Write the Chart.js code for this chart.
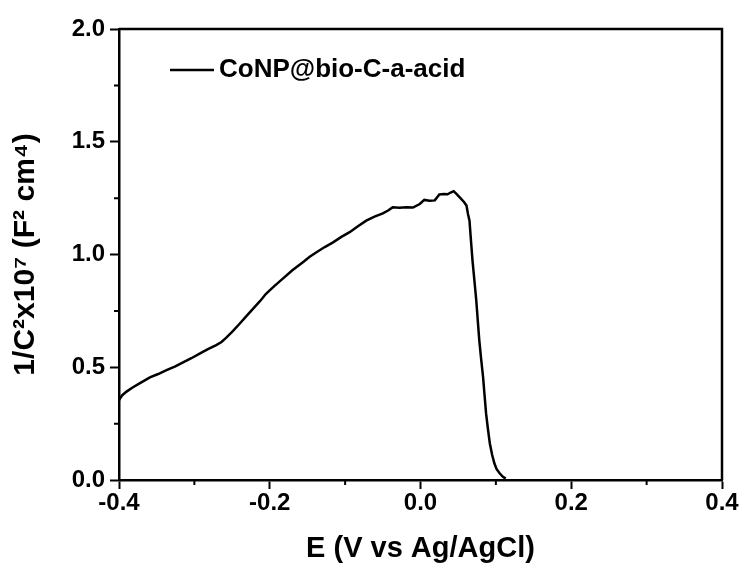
<!DOCTYPE html>
<html>
<head>
<meta charset="utf-8">
<script src="https://cdn.jsdelivr.net/npm/chart.js@4"></script>
<style>
  html, body { margin: 0; padding: 0; background: #fff; }
  #wrap { width: 744px; height: 570px; }
</style>
</head>
<body>
<div id="wrap"><canvas id="mottChart" width="744" height="570"></canvas></div>
<script>
// potential (V vs Ag/AgCl) and 1/C^2 x10^7
const potential = [
  -0.400, -0.396, -0.390, -0.382, -0.371, -0.359, -0.348, -0.337, -0.326, -0.315,
  -0.304, -0.293, -0.282, -0.271, -0.264, -0.258, -0.249, -0.240, -0.231, -0.222,
  -0.213, -0.205, -0.194, -0.183, -0.170, -0.156, -0.147, -0.138, -0.127, -0.116,
  -0.105, -0.094, -0.083, -0.072, -0.061, -0.050, -0.043, -0.037, -0.028, -0.019,
  -0.010, -0.001, 0.005, 0.012, 0.019, 0.025, 0.031, 0.036, 0.040, 0.044,
  0.048, 0.053, 0.058, 0.061, 0.063, 0.065, 0.067, 0.069, 0.0715, 0.074,
  0.076, 0.078, 0.0805, 0.083, 0.085, 0.087, 0.0895, 0.092, 0.095, 0.098,
  0.101, 0.105, 0.109, 0.113
];
const invCapSq = [
  0.355, 0.375, 0.392, 0.410, 0.432, 0.455, 0.470, 0.487, 0.503, 0.522,
  0.540, 0.560, 0.580, 0.598, 0.612, 0.630, 0.660, 0.693, 0.727, 0.760,
  0.793, 0.826, 0.860, 0.892, 0.930, 0.966, 0.990, 1.010, 1.033, 1.054,
  1.078, 1.099, 1.125, 1.150, 1.168, 1.182, 1.195, 1.209, 1.207, 1.210,
  1.208, 1.224, 1.242, 1.238, 1.240, 1.266, 1.268, 1.267, 1.275, 1.281,
  1.268, 1.250, 1.232, 1.217, 1.180, 1.150, 1.060, 0.973, 0.885, 0.796,
  0.707, 0.619, 0.535, 0.457, 0.375, 0.295, 0.225, 0.162, 0.112, 0.074,
  0.048, 0.030, 0.015, 0.006
];
const seriesName = 'CoNP@bio-C-a-acid';
const xMinorTicks = [-0.3, -0.1, 0.1, 0.3];
const yMinorTicks = [0.25, 0.75, 1.25, 1.75];

const points = potential.map((e, i) => ({ x: e, y: invCapSq[i] }));
const font = 'Liberation Sans, Arial, sans-serif';

// closes the frame, adds minor ticks and the legend inside the plot
const framePlugin = {
  id: 'frame',
  afterDraw(chart) {
    const { ctx, chartArea: a, scales } = chart;
    ctx.save();
    ctx.strokeStyle = '#000';
    ctx.lineWidth = 2.5;
    ctx.beginPath();
    ctx.moveTo(a.left, a.top);
    ctx.lineTo(a.right, a.top);
    ctx.lineTo(a.right, a.bottom);
    ctx.stroke();

    ctx.lineWidth = 2;
    ctx.beginPath();
    xMinorTicks.forEach(v => {
      const px = scales.x.getPixelForValue(v);
      ctx.moveTo(px, a.bottom);
      ctx.lineTo(px, a.bottom + 5);
    });
    yMinorTicks.forEach(v => {
      const py = scales.y.getPixelForValue(v);
      ctx.moveTo(a.left, py);
      ctx.lineTo(a.left - 5, py);
    });
    ctx.stroke();

    const ly = a.top + 41;
    ctx.lineWidth = 2.5;
    ctx.beginPath();
    ctx.moveTo(a.left + 51, ly);
    ctx.lineTo(a.left + 95, ly);
    ctx.stroke();
    ctx.fillStyle = '#000';
    ctx.font = 'bold 26px ' + font;
    ctx.textBaseline = 'middle';
    ctx.fillText(seriesName, a.left + 100, ly);
    ctx.restore();
  }
};

new Chart(document.getElementById('mottChart'), {
  type: 'line',
  data: {
    datasets: [{
      label: seriesName,
      data: points,
      borderColor: '#000',
      borderWidth: 2.5,
      pointRadius: 0,
      tension: 0,
      fill: false
    }]
  },
  options: {
    responsive: false,
    animation: false,
    events: [],
    layout: { padding: { top: 29, right: 22, left: 0, bottom: 0 } },
    plugins: { legend: { display: false }, tooltip: { enabled: false } },
    scales: {
      x: {
        type: 'linear',
        min: -0.4,
        max: 0.4,
        afterFit: s => { s.height = 90; },
        border: { color: '#000', width: 2.5 },
        grid: { drawOnChartArea: false, tickLength: 9, tickWidth: 2, tickColor: '#000' },
        ticks: {
          stepSize: 0.2,
          color: '#000',
          padding: 0,
          font: { family: font, size: 24, weight: 'bold' },
          callback: v => v.toFixed(1)
        },
        title: {
          display: true,
          text: 'E (V vs Ag/AgCl)',
          color: '#000',
          padding: { top: 6 },
          font: { family: font, size: 29, weight: 'bold' }
        }
      },
      y: {
        min: 0,
        max: 2,
        afterFit: s => { s.width = 119; },
        border: { color: '#000', width: 2.5 },
        grid: { drawOnChartArea: false, tickLength: 9, tickWidth: 2, tickColor: '#000' },
        ticks: {
          stepSize: 0.5,
          color: '#000',
          padding: 5,
          font: { family: font, size: 24, weight: 'bold' },
          callback: v => v.toFixed(1)
        },
        title: {
          display: true,
          text: '1/C²x10⁷ (F² cm⁴)',
          color: '#000',
          padding: { top: 8, bottom: 2 },
          font: { family: font, size: 30, weight: 'bold' }
        }
      }
    }
  },
  plugins: [framePlugin]
});
</script>
</body>
</html>
